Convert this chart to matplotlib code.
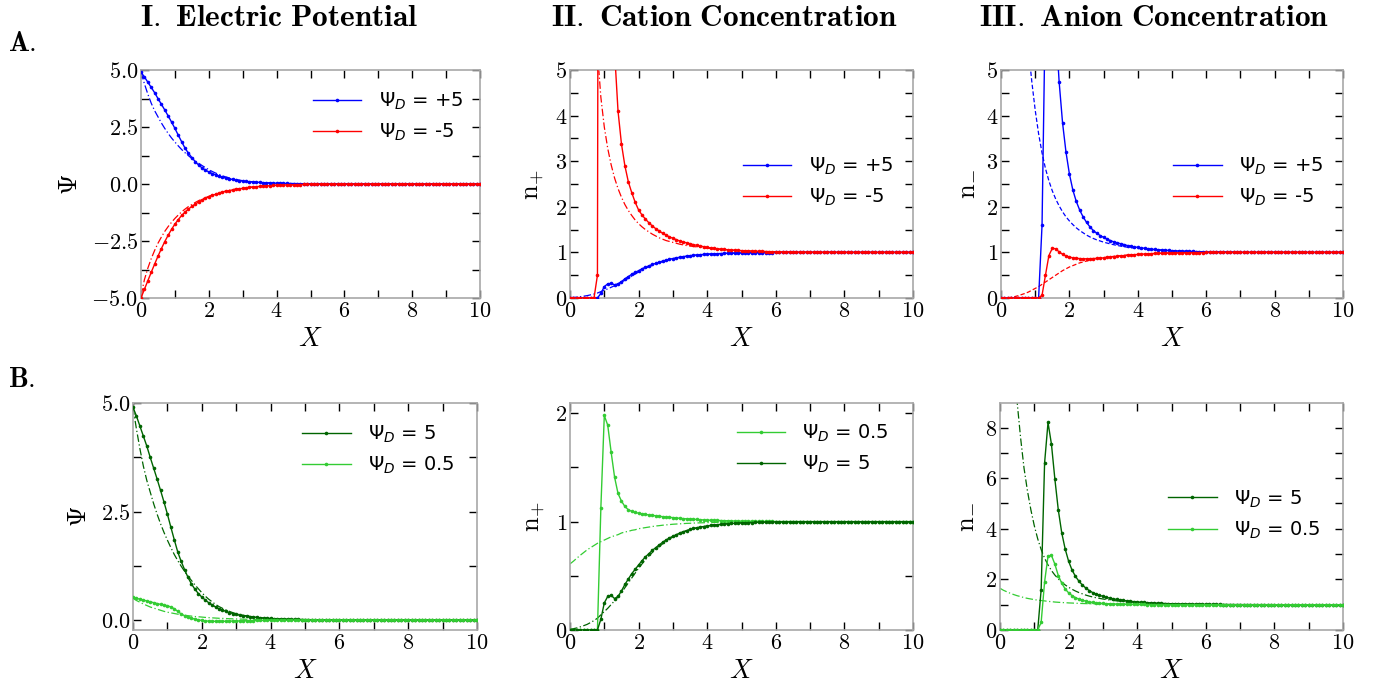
import matplotlib
matplotlib.use('Agg')
import matplotlib.pyplot as plt
from matplotlib.ticker import MultipleLocator, FuncFormatter
from matplotlib.font_manager import FontProperties

plt.rcParams['mathtext.fontset'] = 'cm'
plt.rcParams['font.family'] = ['DejaVu Sans']

# ---------------- data ----------------
X = [0.0, 0.1, 0.2, 0.3, 0.4, 0.5, 0.6, 0.7, 0.8, 0.9,
     1.0, 1.1, 1.2, 1.3, 1.4, 1.5, 1.6, 1.7, 1.8, 1.9,
     2.0, 2.1, 2.2, 2.3, 2.4, 2.5, 2.6, 2.7, 2.8, 2.9,
     3.0, 3.1, 3.2, 3.3, 3.4, 3.5, 3.6, 3.7, 3.8, 3.9,
     4.0, 4.1, 4.2, 4.3, 4.4, 4.5, 4.6, 4.7, 4.8, 4.9,
     5.0, 5.1, 5.2, 5.3, 5.4, 5.5, 5.6, 5.7, 5.8, 5.9,
     6.0, 6.1, 6.2, 6.3, 6.4, 6.5, 6.6, 6.7, 6.8, 6.9,
     7.0, 7.1, 7.2, 7.3, 7.4, 7.5, 7.6, 7.7, 7.8, 7.9,
     8.0, 8.1, 8.2, 8.3, 8.4, 8.5, 8.6, 8.7, 8.8, 8.9,
     9.0, 9.1, 9.2, 9.3, 9.4, 9.5, 9.6, 9.7, 9.8, 9.9,
     10.0]

ZERO_TAIL = [0, 0, 0, 0, 0, 0, 0, 0, 0, 0,
             0, 0, 0, 0, 0, 0, 0, 0, 0, 0,
             0, 0, 0, 0, 0, 0, 0, 0, 0, 0, 0]
ONE_TAIL = [1, 1, 1, 1, 1, 1, 1, 1, 1, 1,
            1, 1, 1, 1, 1, 1, 1, 1, 1, 1, 1]

# Psi_D = +5 : potential
psi_p5 = [4.90, 4.70, 4.47, 4.24, 4.01, 3.75, 3.50, 3.25, 2.99, 2.72,
          2.44, 2.14, 1.85, 1.57, 1.35, 1.16, 0.98, 0.83, 0.71, 0.61,
          0.53, 0.46, 0.40, 0.35, 0.30, 0.26, 0.23, 0.20, 0.17, 0.15,
          0.13, 0.11, 0.10, 0.09, 0.08, 0.07, 0.06, 0.05, 0.045, 0.04,
          0.035, 0.03, 0.027, 0.024, 0.021, 0.018, 0.016, 0.014, 0.012, 0.011,
          0.01, 0.009, 0.008, 0.007, 0.006, 0.005, 0.004, 0.004, 0.003, 0.003,
          0.002, 0.002, 0.002, 0.002, 0.002, 0.001, 0.001, 0.001, 0.001, 0.001] + ZERO_TAIL
psi_p5_ref = [4.90, 4.40, 3.95, 3.55, 3.22, 2.95, 2.68, 2.44, 2.22, 2.02,
              1.84, 1.67, 1.51, 1.37, 1.24, 1.12, 1.01, 0.91, 0.81, 0.72,
              0.63, 0.55, 0.48, 0.42, 0.36, 0.31, 0.27, 0.23, 0.20, 0.17,
              0.145, 0.125, 0.11, 0.095, 0.085, 0.072, 0.062, 0.053, 0.046, 0.04,
              0.035, 0.03, 0.027, 0.024, 0.021, 0.018, 0.016, 0.014, 0.012, 0.011,
              0.01, 0.009, 0.008, 0.007, 0.006, 0.005, 0.004, 0.004, 0.003, 0.003,
              0.002, 0.002, 0.002, 0.002, 0.002, 0.001, 0.001, 0.001, 0.001, 0.001] + ZERO_TAIL
# Psi_D = -5 : potential
psi_m5 = [-5.0, -4.62, -4.25, -3.88, -3.52, -3.17, -2.84, -2.53, -2.25, -1.99,
          -1.76, -1.56, -1.38, -1.23, -1.10, -0.98, -0.88, -0.79, -0.70, -0.63,
          -0.56, -0.50, -0.45, -0.40, -0.36, -0.32, -0.29, -0.26, -0.23, -0.21,
          -0.19, -0.17, -0.15, -0.135, -0.12, -0.105, -0.095, -0.085, -0.075, -0.065,
          -0.058, -0.052, -0.046, -0.04, -0.035, -0.03, -0.026, -0.022, -0.019, -0.016,
          -0.014, -0.012, -0.01, -0.009, -0.008, -0.007, -0.006, -0.005, -0.004, -0.003,
          -0.002, -0.002, -0.002, -0.002, -0.002, -0.001, -0.001, -0.001, -0.001, -0.001] + ZERO_TAIL
psi_m5_ref = [-4.9, -4.2, -3.7, -3.28, -2.92, -2.6, -2.33, -2.08, -1.87, -1.68,
              -1.51, -1.36, -1.22, -1.10, -0.99, -0.90, -0.81, -0.73, -0.66, -0.60,
              -0.54, -0.48, -0.43, -0.39, -0.35, -0.31, -0.28, -0.25, -0.22, -0.20,
              -0.18, -0.16, -0.145, -0.13, -0.115, -0.1, -0.09, -0.08, -0.07, -0.062,
              -0.056, -0.05, -0.044, -0.039, -0.034, -0.03, -0.026, -0.022, -0.019, -0.016,
              -0.014, -0.012, -0.01, -0.009, -0.008, -0.007, -0.006, -0.005, -0.004, -0.003,
              -0.002, -0.002, -0.002, -0.002, -0.002, -0.001, -0.001, -0.001, -0.001, -0.001] + ZERO_TAIL

# cation concentration
nplus_p5 = [0, 0, 0, 0, 0, 0, 0, 0, 0, 0.1,
            0.25, 0.31, 0.32, 0.29, 0.31, 0.36, 0.42, 0.47, 0.52, 0.56,
            0.60, 0.64, 0.675, 0.705, 0.735, 0.76, 0.785, 0.81, 0.83, 0.85,
            0.865, 0.88, 0.895, 0.907, 0.918, 0.928, 0.937, 0.944, 0.95, 0.955,
            0.96, 0.965, 0.969, 0.972, 0.975, 0.978, 0.981, 0.983, 0.985, 0.987,
            0.989, 0.99, 0.991, 0.992, 0.993, 0.994, 0.995, 0.996, 0.997, 0.997,
            0.998, 0.998, 0.998, 0.998, 0.998, 0.999, 0.999, 0.999, 0.999, 0.999,
            1, 1, 1, 1, 1, 1, 1, 1, 1, 1] + ONE_TAIL
nplus_p5_ref = [0.007, 0.012, 0.019, 0.029, 0.04, 0.052, 0.069, 0.087, 0.109, 0.14,
                0.17, 0.2, 0.235, 0.27, 0.305, 0.345, 0.39, 0.435, 0.48, 0.525,
                0.57, 0.61, 0.65, 0.685, 0.715, 0.745, 0.77, 0.795, 0.818, 0.84,
                0.858, 0.875, 0.89, 0.903, 0.914, 0.925, 0.934, 0.942, 0.949, 0.955,
                0.96, 0.965, 0.969, 0.972, 0.975, 0.978, 0.981, 0.983, 0.985, 0.987,
                0.989, 0.99, 0.991, 0.992, 0.993, 0.994, 0.995, 0.996, 0.997, 0.997,
                0.998, 0.998, 0.998, 0.998, 0.998, 0.999, 0.999, 0.999, 0.999, 0.999,
                1, 1, 1, 1, 1, 1, 1, 1, 1, 1] + ONE_TAIL
nplus_m5 = [0, 0, 0, 0, 0, 0, 0, 0, 0.5, 40,
            22, 12, 7.6, 5.4, 4.1, 3.38, 2.9, 2.55, 2.31, 2.1,
            1.93, 1.82, 1.73, 1.65, 1.58, 1.52, 1.47, 1.42, 1.38, 1.34,
            1.31, 1.28, 1.25, 1.23, 1.21, 1.19, 1.17, 1.155, 1.14, 1.125,
            1.11, 1.1, 1.09, 1.08, 1.072, 1.065, 1.058, 1.052, 1.047, 1.043,
            1.039, 1.035, 1.032, 1.029, 1.026, 1.023, 1.021, 1.019, 1.017, 1.015,
            1.013, 1.012, 1.011, 1.01, 1.009, 1.008, 1.007, 1.006, 1.005, 1.005,
            1.004, 1.004, 1.003, 1.003, 1.003, 1.002, 1.002, 1.002, 1.002, 1.001] + ONE_TAIL
nplus_m5_ref = [150, 70, 40, 26, 18, 13, 9.5, 7.2, 5.4, 4.4,
                3.75, 3.28, 2.92, 2.63, 2.4, 2.21, 2.05, 1.92, 1.81, 1.71,
                1.63, 1.56, 1.5, 1.45, 1.4, 1.36, 1.32, 1.29, 1.26, 1.24,
                1.22, 1.2, 1.18, 1.165, 1.15, 1.14, 1.13, 1.12, 1.11, 1.1,
                1.092, 1.085, 1.078, 1.071, 1.065, 1.06, 1.055, 1.05, 1.046, 1.042,
                1.039, 1.035, 1.032, 1.029, 1.026, 1.023, 1.021, 1.019, 1.017, 1.015,
                1.013, 1.012, 1.011, 1.01, 1.009, 1.008, 1.007, 1.006, 1.005, 1.005,
                1.004, 1.004, 1.003, 1.003, 1.003, 1.002, 1.002, 1.002, 1.002, 1.001] + ONE_TAIL

# anion concentration
nminus_p5 = [0, 0, 0, 0, 0, 0, 0, 0, 0, 0,
             0, 0, 1.6, 6.6, 8.2, 7.34, 5.96, 4.74, 3.84, 3.2,
             2.72, 2.37, 2.12, 1.93, 1.78, 1.66, 1.56, 1.48, 1.42, 1.37,
             1.33, 1.29, 1.26, 1.23, 1.21, 1.19, 1.17, 1.15, 1.135, 1.12,
             1.11, 1.1, 1.09, 1.08, 1.072, 1.065, 1.058, 1.052, 1.047, 1.042,
             1.038, 1.034, 1.031, 1.028, 1.025, 1.022, 1.02, 1.018, 1.016, 1.014,
             1.012, 1.011, 1.01, 1.009, 1.008, 1.007, 1.006, 1.005, 1.005, 1.004,
             1.004, 1.003, 1.003, 1.003, 1.002, 1.002, 1.002, 1.002, 1.001, 1.001] + ONE_TAIL
nminus_p5_ref = [30, 22, 17, 13.5, 11, 9, 7.6, 6.4, 5.5, 4.75,
                 4.12, 3.6, 3.18, 2.84, 2.57, 2.35, 2.17, 2.02, 1.89, 1.78,
                 1.69, 1.61, 1.54, 1.48, 1.43, 1.38, 1.34, 1.305, 1.275, 1.25,
                 1.225, 1.205, 1.185, 1.168, 1.152, 1.138, 1.125, 1.114, 1.104, 1.095,
                 1.087, 1.08, 1.074, 1.068, 1.062, 1.057, 1.052, 1.048, 1.044, 1.04,
                 1.038, 1.034, 1.031, 1.028, 1.025, 1.022, 1.02, 1.018, 1.016, 1.014,
                 1.012, 1.011, 1.01, 1.009, 1.008, 1.007, 1.006, 1.005, 1.005, 1.004,
                 1.004, 1.003, 1.003, 1.003, 1.002, 1.002, 1.002, 1.002, 1.001, 1.001] + ONE_TAIL
nminus_m5 = [0, 0, 0, 0, 0, 0, 0, 0, 0, 0,
             0, 0, 0.06, 0.5, 0.93, 1.09, 1.08, 1.01, 0.96, 0.92,
             0.90, 0.88, 0.87, 0.865, 0.86, 0.86, 0.862, 0.865, 0.87, 0.875,
             0.88, 0.89, 0.9, 0.91, 0.915, 0.925, 0.93, 0.94, 0.945, 0.95,
             0.955, 0.96, 0.965, 0.97, 0.973, 0.976, 0.979, 0.982, 0.985, 0.987,
             0.989, 0.99, 0.991, 0.992, 0.993, 0.994, 0.995, 0.996, 0.997, 0.997,
             0.998, 0.998, 0.998, 0.998, 0.998, 0.999, 0.999, 0.999, 0.999, 0.999,
             1, 1, 1, 1, 1, 1, 1, 1, 1, 1] + ONE_TAIL
nminus_m5_ref = [0.0, 0.002, 0.006, 0.015, 0.03, 0.05, 0.075, 0.1, 0.13, 0.17,
                 0.21, 0.25, 0.3, 0.35, 0.4, 0.45, 0.5, 0.55, 0.6, 0.64,
                 0.68, 0.71, 0.74, 0.77, 0.79, 0.81, 0.83, 0.85, 0.86, 0.875,
                 0.885, 0.895, 0.905, 0.912, 0.92, 0.927, 0.933, 0.94, 0.945, 0.95,
                 0.955, 0.96, 0.965, 0.97, 0.973, 0.976, 0.979, 0.982, 0.985, 0.987,
                 0.989, 0.99, 0.991, 0.992, 0.993, 0.994, 0.995, 0.996, 0.997, 0.997,
                 0.998, 0.998, 0.998, 0.998, 0.998, 0.999, 0.999, 0.999, 0.999, 0.999,
                 1, 1, 1, 1, 1, 1, 1, 1, 1, 1] + ONE_TAIL

# Psi_D = 0.5
psi_p05 = [0.52, 0.50, 0.48, 0.46, 0.44, 0.42, 0.40, 0.38, 0.36, 0.345,
           0.33, 0.30, 0.26, 0.20, 0.14, 0.10, 0.07, 0.04, 0.02, 0.005,
           -0.01, -0.02, -0.025, -0.03, -0.03, -0.03, -0.03, -0.028, -0.026, -0.024,
           -0.022, -0.02, -0.018, -0.016, -0.014, -0.012, -0.011, -0.01, -0.009, -0.008,
           -0.007, -0.006, -0.005, -0.005, -0.004, -0.004, -0.003, -0.003, -0.002, -0.002,
           -0.002, -0.001, -0.001, -0.001, -0.001, -0.001, -0.001, -0.001, -0.001, -0.001,
           0, 0, 0, 0, 0, 0, 0, 0, 0, 0] + ZERO_TAIL
psi_p05_ref = [0.5, 0.45, 0.41, 0.37, 0.335, 0.30, 0.275, 0.25, 0.225, 0.20,
               0.18, 0.165, 0.15, 0.135, 0.12, 0.11, 0.10, 0.09, 0.08, 0.075,
               0.068, 0.06, 0.055, 0.05, 0.045, 0.04, 0.037, 0.034, 0.03, 0.027,
               0.025, 0.022, 0.02, 0.018, 0.016, 0.015, 0.013, 0.012, 0.011, 0.01,
               0.009, 0.008, 0.007, 0.006, 0.006, 0.005, 0.005, 0.004, 0.004, 0.003,
               0.003, 0.003, 0.002, 0.002, 0.002, 0.002, 0.001, 0.001, 0.001, 0.001,
               0, 0, 0, 0, 0, 0, 0, 0, 0, 0] + ZERO_TAIL
nplus_p05 = [0, 0, 0, 0, 0, 0, 0, 0, 0, 1.13,
             1.98, 1.89, 1.64, 1.41, 1.26, 1.19, 1.14, 1.11, 1.095, 1.085,
             1.078, 1.072, 1.067, 1.062, 1.058, 1.054, 1.05, 1.046, 1.043, 1.04,
             1.037, 1.034, 1.031, 1.028, 1.026, 1.024, 1.022, 1.02, 1.018, 1.016,
             1.014, 1.013, 1.012, 1.011, 1.01, 1.009, 1.008, 1.007, 1.006, 1.005,
             1.005, 1.004, 1.004, 1.003, 1.003, 1.003, 1.002, 1.002, 1.002, 1.002,
             1.001, 1.001, 1.001, 1.001, 1.001, 1.001, 1.001, 1.001, 1.001, 1.001,
             1, 1, 1, 1, 1, 1, 1, 1, 1, 1] + ONE_TAIL
nplus_p05_ref = [0.61, 0.635, 0.663, 0.69, 0.715, 0.74, 0.76, 0.78, 0.80, 0.815,
                 0.83, 0.845, 0.86, 0.87, 0.88, 0.895, 0.905, 0.91, 0.92, 0.925,
                 0.935, 0.94, 0.945, 0.95, 0.955, 0.96, 0.963, 0.967, 0.97, 0.973,
                 0.976, 0.978, 0.98, 0.982, 0.984, 0.985, 0.987, 0.988, 0.989, 0.99,
                 0.991, 0.992, 0.993, 0.994, 0.994, 0.995, 0.995, 0.996, 0.996, 0.997,
                 0.997, 0.997, 0.998, 0.998, 0.998, 0.998, 0.999, 0.999, 0.999, 0.999,
                 1, 1, 1, 1, 1, 1, 1, 1, 1, 1,
                 1, 1, 1, 1, 1, 1, 1, 1, 1, 1] + ONE_TAIL
nminus_p05 = [0, 0, 0, 0, 0, 0, 0, 0, 0, 0,
              0, 0, 0.3, 1.9, 2.92, 2.95, 2.6, 2.15, 1.85, 1.62,
              1.47, 1.36, 1.28, 1.22, 1.18, 1.14, 1.11, 1.09, 1.07, 1.06,
              1.05, 1.04, 1.035, 1.03, 1.025, 1.02, 1.018, 1.016, 1.014, 1.012,
              1.01, 1.009, 1.008, 1.007, 1.006, 1.005, 1.004, 1.004, 1.003, 1.003,
              1.002, 1.002, 1.002, 1.002, 1.002, 1.001, 1.001, 1.001, 1.001, 1.001,
              1, 1, 1, 1, 1, 1, 1, 1, 1, 1,
              1, 1, 1, 1, 1, 1, 1, 1, 1, 1] + ONE_TAIL
nminus_p05_ref = [1.65, 1.57, 1.51, 1.45, 1.40, 1.355, 1.32, 1.28, 1.25, 1.225,
                  1.2, 1.18, 1.165, 1.15, 1.13, 1.12, 1.105, 1.095, 1.085, 1.08,
                  1.07, 1.065, 1.058, 1.052, 1.047, 1.043, 1.039, 1.035, 1.032, 1.029,
                  1.026, 1.024, 1.021, 1.019, 1.017, 1.015, 1.014, 1.012, 1.011, 1.01,
                  1.009, 1.008, 1.007, 1.006, 1.006, 1.005, 1.005, 1.004, 1.004, 1.003,
                  1.003, 1.003, 1.002, 1.002, 1.002, 1.002, 1.001, 1.001, 1.001, 1.001,
                  1, 1, 1, 1, 1, 1, 1, 1, 1, 1,
                  1, 1, 1, 1, 1, 1, 1, 1, 1, 1] + ONE_TAIL

COL_TITLES = ['I. Electric Potential', 'II. Cation Concentration', 'III. Anion Concentration']
ROW_LABELS = ['A.', 'B.']
LAB_P5 = r'$\Psi_D$ = +5'
LAB_M5 = r'$\Psi_D$ = -5'
LAB_5 = r'$\Psi_D$ = 5'
LAB_05 = r'$\Psi_D$ = 0.5'

# ---------------- style ----------------
BLUE = '#0000ff'
RED = '#ff0000'
DKG = '#006400'
LTG = '#33cc33'
DASHDOT = (0, (6, 2, 1, 2))
DASHED = (0, (3.5, 1.8))
W, H = 1377.0, 689.0


def ax_at(l, r, t, b):
    return fig.add_axes([l / W, 1 - b / H, (r - l) / W, (b - t) / H])


def fmt_factory(decimals):
    def f(v, p):
        if abs(v) < 1e-9:
            v = 0.0
        s = ('%.' + str(decimals) + 'f') % v
        return '$' + s + '$'
    return FuncFormatter(f)


def style(ax, ylim, ymaj, ymin, dec, ylabel):
    ax.set_xlim(0, 10)
    ax.set_ylim(*ylim)
    ax.xaxis.set_major_locator(MultipleLocator(2))
    ax.xaxis.set_minor_locator(MultipleLocator(1))
    ax.yaxis.set_major_locator(MultipleLocator(ymaj))
    ax.yaxis.set_minor_locator(MultipleLocator(ymin))
    ax.xaxis.set_major_formatter(fmt_factory(0))
    ax.yaxis.set_major_formatter(fmt_factory(dec))
    ax.tick_params(which='both', direction='in', top=True, right=True,
                   length=5.5, width=1.0, color='black', labelsize=16, pad=2.0)
    for sp in ax.spines.values():
        sp.set_color('#a8a8a8')
        sp.set_linewidth(1.2)
    ax.set_xlabel(r'$X$', fontsize=19, labelpad=4)
    ax.set_ylabel(ylabel, fontsize=19, labelpad=6)


def solid(ax, y, color, label=None):
    ax.plot(X, y, '-', color=color, lw=1.0, marker='o', ms=2.6, mew=0,
            label=label, zorder=3)


def ref(ax, y, color, ls):
    ax.plot(X, y, linestyle=ls, color=color, lw=0.9, zorder=2)


def legend(ax, x, y):
    ax.legend(loc='center left', bbox_to_anchor=(x, y), frameon=False,
              prop=FontProperties(family='DejaVu Sans', size=14, math_fontfamily='dejavusans'),
              handlelength=2.5, handletextpad=0.88, labelspacing=0.5,
              borderpad=0, borderaxespad=0)


fig = plt.figure(figsize=(W / 100, H / 100), dpi=100)

# Row A
a1 = ax_at(141, 480, 70, 298)
ref(a1, psi_p5_ref, BLUE, DASHDOT)
ref(a1, psi_m5_ref, RED, DASHDOT)
solid(a1, psi_p5, BLUE, LAB_P5)
solid(a1, psi_m5, RED, LAB_M5)
style(a1, (-5, 5), 2.5, 1.25, 1, r'$\Psi$')
legend(a1, 0.507, 0.794)

a2 = ax_at(570, 913, 70, 298)
ref(a2, nplus_p5_ref, BLUE, DASHDOT)
ref(a2, nplus_m5_ref, RED, DASHDOT)
solid(a2, nplus_p5, BLUE, LAB_P5)
solid(a2, nplus_m5, RED, LAB_M5)
style(a2, (0, 5), 1, 0.5, 0, r'$\mathrm{n}_{+}$')
legend(a2, 0.504, 0.509)

a3 = ax_at(1001, 1343, 70, 298)
ref(a3, nminus_p5_ref, BLUE, DASHED)
ref(a3, nminus_m5_ref, RED, DASHED)
solid(a3, nminus_p5, BLUE, LAB_P5)
solid(a3, nminus_m5, RED, LAB_M5)
style(a3, (0, 5), 1, 0.5, 0, r'$\mathrm{n}_{-}$')
legend(a3, 0.503, 0.509)

# Row B
b1 = ax_at(133, 477, 403, 630)
ref(b1, psi_p5_ref, DKG, DASHDOT)
ref(b1, psi_p05_ref, LTG, DASHDOT)
solid(b1, psi_p5, DKG, LAB_5)
solid(b1, psi_p05, LTG, LAB_05)
style(b1, (-0.23, 5.0), 2.5, 1.25, 1, r'$\Psi$')
legend(b1, 0.491, 0.795)

b2 = ax_at(570, 913, 403, 630)
ref(b2, nplus_p5_ref, DKG, DASHDOT)
ref(b2, nplus_p05_ref, LTG, DASHDOT)
solid(b2, nplus_p05, LTG, LAB_05)
solid(b2, nplus_p5, DKG, LAB_5)
style(b2, (0, 2.095), 1, 0.5, 0, r'$\mathrm{n}_{+}$')
legend(b2, 0.486, 0.797)

b3 = ax_at(1000, 1343, 403, 630)
ref(b3, nminus_p5_ref, DKG, DASHDOT)
ref(b3, nminus_p05_ref, LTG, DASHDOT)
solid(b3, nminus_p5, DKG, LAB_5)
solid(b3, nminus_p05, LTG, LAB_05)
style(b3, (0, 8.97), 2, 1, 0, r'$\mathrm{n}_{-}$')
legend(b3, 0.49, 0.509)

# titles and row labels
title_x = [279, 724, 1154]
for tx, t in zip(title_x, COL_TITLES):
    fig.text(tx / W, 1 - 17 / H, r'$\mathbf{' + t.replace(' ', r'\ ') + '}$',
             ha='center', va='center', fontsize=22.5)
fig.text(8 / W, 1 - 43 / H, r'$\mathbf{' + ROW_LABELS[0] + '}$', ha='left', va='center', fontsize=20)
fig.text(8 / W, 1 - 379 / H, r'$\mathbf{' + ROW_LABELS[1] + '}$', ha='left', va='center', fontsize=20)

fig.savefig('out.png', dpi=100)
